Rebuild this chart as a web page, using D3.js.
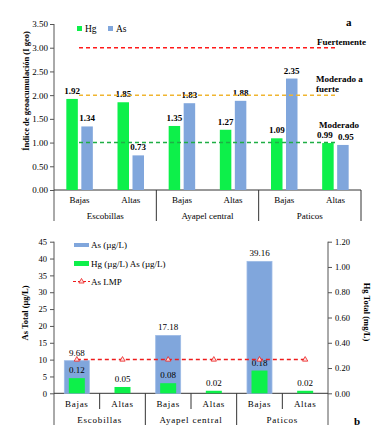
<!DOCTYPE html>
<html lang="es">
<head>
<meta charset="UTF-8">
<title>Igeo y As/Hg total</title>
<script src="https://cdn.jsdelivr.net/npm/d3@7"></script>
<style>
  body { margin: 0; background: #fff; }
  svg { display: block; font-family: "Liberation Serif", "Times New Roman", serif; }
  .tick line { stroke: #555; }
  .tick text { fill: #000; }
</style>
</head>
<body>
<script>
// ---- data ----
const categories = ["Bajas", "Altas", "Bajas", "Altas", "Bajas", "Altas"];
const groups = ["Escobillas", "Ayapel central", "Paticos"];

// panel a: Igeo
const igeoHg = [1.92, 1.85, 1.35, 1.27, 1.09, 0.99];
const igeoAs = [1.34, 0.73, 1.83, 1.88, 2.35, 0.95];
const igeoTicks = [0, 0.5, 1, 1.5, 2, 2.5, 3, 3.5];
const classValues = [3, 2, 1];
const classLabels = [["Fuertemente"], ["Moderado a", "fuerte"], ["Moderado"]];

// panel b: totals
const asTotal = [9.68, null, 17.18, null, 39.16, null];
const hgTotal = [0.12, 0.05, 0.08, 0.02, 0.18, 0.02];
const asLmp = [10, 10, 10, 10, 10, 10];
const asTicks = [0, 5, 10, 15, 20, 25, 30, 35, 40, 45];
const hgTicks = [0, 0.2, 0.4, 0.6, 0.8, 1.0, 1.2];

const green = "#0df04a";
const blue = "#80a6dc";
const classColors = ["#ff1a1a", "#f0b530", "#1fae45"];

const svg = d3.select("body").append("svg")
  .attr("width", 377).attr("height", 445);

// ================= panel a =================
const a = svg.append("g");
const xa = d3.scaleBand().domain(d3.range(6)).range([54, 361]);
const xaSub = d3.scaleBand().domain(["Hg", "As"]).range([-13.25, 13.25]).paddingInner(0.233);
const ya = d3.scaleLinear().domain([0, 3.5]).range([190, 24]);

a.append("g")
  .attr("transform", "translate(54,0)")
  .call(d3.axisLeft(ya).tickValues(igeoTicks).tickFormat(d3.format(".2f")).tickSize(4).tickPadding(2))
  .call(g => g.select(".domain").remove())
  .selectAll("text").attr("font-size", 9).attr("font-family", "Liberation Serif");

a.append("line").attr("x1", 54).attr("x2", 54).attr("y1", 24).attr("y2", 221).attr("stroke", "#555");
a.append("line").attr("x1", 54).attr("x2", 361).attr("y1", 190).attr("y2", 190).attr("stroke", "#333");

// group separators
[2, 4].forEach(i => {
  a.append("line").attr("x1", xa(i)).attr("x2", xa(i)).attr("y1", 190).attr("y2", 221).attr("stroke", "#333");
});
a.append("line").attr("x1", 361).attr("x2", 361).attr("y1", 190).attr("y2", 221).attr("stroke", "#333");

// bars
const series = [["Hg", igeoHg, green, -1], ["As", igeoAs, blue, 1]];
series.forEach(([key, vals, col, side]) => {
  const g = a.append("g");
  g.selectAll("rect").data(vals).join("rect")
    .attr("x", (d, i) => xa(i) + xa.bandwidth() / 2 + xaSub(key))
    .attr("width", xaSub.bandwidth())
    .attr("y", d => ya(d))
    .attr("height", d => ya(0) - ya(d))
    .attr("fill", col);
  g.selectAll("text").data(vals).join("text")
    .attr("x", (d, i) => {
      // push apart labels of near-equal bars so they don't collide
      const close = Math.abs(igeoHg[i] - igeoAs[i]) < 0.15 ? side * 3 : 0;
      return xa(i) + xa.bandwidth() / 2 + xaSub(key) + xaSub.bandwidth() / 2 + close;
    })
    .attr("y", d => ya(d) - 5)
    .attr("text-anchor", "middle")
    .attr("font-size", 9)
    .attr("font-weight", "bold")
    .text(d => d3.format(".2f")(d));
});

// class lines
classValues.forEach((v, i) => {
  a.append("line")
    .attr("x1", 79).attr("x2", 336)
    .attr("y1", ya(v)).attr("y2", ya(v))
    .attr("stroke", classColors[i]).attr("stroke-width", 1.5)
    .attr("stroke-dasharray", "4,3");
});
const classLabelY = [45, 82, 128];
const classLabelX = [317, 316, 319];
classLabels.forEach((lines, i) => {
  const t = a.append("text")
    .attr("x", classLabelX[i]).attr("y", classLabelY[i])
    .attr("font-size", 9).attr("font-weight", "bold");
  lines.forEach((l, j) => t.append("tspan").attr("x", classLabelX[i]).attr("dy", j ? 10 : 0).text(l));
});

// category labels
a.selectAll(".cat").data(categories).join("text")
  .attr("x", (d, i) => xa(i) + xa.bandwidth() / 2)
  .attr("y", 203)
  .attr("text-anchor", "middle").attr("font-size", 9)
  .text(d => d);
a.selectAll(".grp").data(groups).join("text")
  .attr("x", (d, i) => xa(i * 2) + xa.bandwidth())
  .attr("y", 219)
  .attr("text-anchor", "middle").attr("font-size", 9)
  .text(d => d);

// legend a
a.append("rect").attr("x", 77).attr("y", 26).attr("width", 5).attr("height", 5).attr("fill", green);
a.append("text").attr("x", 85).attr("y", 32).attr("font-size", 9.5).text("Hg");
a.append("rect").attr("x", 108).attr("y", 26).attr("width", 5).attr("height", 5).attr("fill", blue);
a.append("text").attr("x", 116).attr("y", 32).attr("font-size", 9.5).text("As");

a.append("text").attr("x", 346).attr("y", 26).attr("font-size", 11).attr("font-weight", "bold").text("a");

a.append("text")
  .attr("transform", "translate(29,91) rotate(-90)")
  .attr("text-anchor", "middle").attr("font-size", 8.5).attr("font-weight", "bold")
  .text("Índice de geoacumulación (I geo)");

// ================= panel b =================
const b = svg.append("g");
const xb = d3.scaleBand().domain(d3.range(6)).range([54, 328]);
const ybL = d3.scaleLinear().domain([0, 45]).range([393.3, 241.7]);
const ybR = d3.scaleLinear().domain([0, 1.2]).range([393.3, 241.7]);

b.append("g")
  .attr("transform", "translate(54,0)")
  .call(d3.axisLeft(ybL).tickValues(asTicks).tickFormat(d3.format("d")).tickSize(4).tickPadding(3))
  .call(g => g.select(".domain").remove())
  .selectAll("text").attr("font-size", 8.5).attr("font-family", "Liberation Serif");
b.append("g")
  .attr("transform", "translate(328,0)")
  .call(d3.axisRight(ybR).tickValues(hgTicks).tickFormat(d3.format(".2f")).tickSize(4).tickPadding(3))
  .call(g => g.select(".domain").remove())
  .selectAll("text").attr("font-size", 8.5).attr("font-family", "Liberation Serif");

b.append("line").attr("x1", 54).attr("x2", 54).attr("y1", 241.7).attr("y2", 425).attr("stroke", "#555");
b.append("line").attr("x1", 328).attr("x2", 328).attr("y1", 241.7).attr("y2", 425).attr("stroke", "#555");
b.append("line").attr("x1", 54).attr("x2", 328).attr("y1", 393.3).attr("y2", 393.3).attr("stroke", "#333");
[1, 3, 5].forEach(i => {
  b.append("line").attr("x1", xb(i)).attr("x2", xb(i)).attr("y1", 393.3).attr("y2", 409).attr("stroke", "#333");
});
[2, 4].forEach(i => {
  b.append("line").attr("x1", xb(i)).attr("x2", xb(i)).attr("y1", 393.3).attr("y2", 425).attr("stroke", "#333");
});

// As bars
const asW = 25, hgW = 16;
const asData = asTotal.map((v, i) => ({ v, i })).filter(d => d.v != null);
b.selectAll(".asbar").data(asData).join("rect")
  .attr("x", d => xb(d.i) + xb.bandwidth() / 2 - asW / 2)
  .attr("width", asW)
  .attr("y", d => ybL(d.v))
  .attr("height", d => ybL(0) - ybL(d.v))
  .attr("fill", blue).attr("stroke", "#9dbbe6").attr("stroke-width", 0.8);
b.selectAll(".aslab").data(asData).join("text")
  .attr("x", d => xb(d.i) + xb.bandwidth() / 2)
  .attr("y", d => ybL(d.v) - 5)
  .attr("text-anchor", "middle").attr("font-size", 9)
  .text(d => d3.format(".2f")(d.v));

// Hg bars
b.selectAll(".hgbar").data(hgTotal).join("rect")
  .attr("x", (d, i) => xb(i) + xb.bandwidth() / 2 - hgW / 2)
  .attr("width", hgW)
  .attr("y", d => ybR(d))
  .attr("height", d => ybR(0) - ybR(d))
  .attr("fill", green);
b.selectAll(".hglab").data(hgTotal).join("text")
  .attr("x", (d, i) => xb(i) + xb.bandwidth() / 2)
  .attr("y", d => ybR(d) - 5)
  .attr("text-anchor", "middle").attr("font-size", 9)
  .text(d => d3.format(".2f")(d));

// As LMP
const lmpLine = d3.line().x((d, i) => xb(i) + xb.bandwidth() / 2).y(d => ybL(d));
b.append("path").datum(asLmp).attr("d", lmpLine)
  .attr("fill", "none").attr("stroke", "#ee1c1c").attr("stroke-width", 1.5).attr("stroke-dasharray", "4,3");
const tri = d3.symbol().type(d3.symbolTriangle).size(12);
b.selectAll(".lmpmk").data(asLmp).join("path")
  .attr("d", tri)
  .attr("transform", (d, i) => `translate(${xb(i) + xb.bandwidth() / 2},${ybL(d)})`)
  .attr("fill", "#fbe3e3").attr("stroke", "#ee1c1c").attr("stroke-width", 0.8);

// category labels b
b.selectAll(".cat").data(categories).join("text")
  .attr("x", (d, i) => xb(i) + xb.bandwidth() / 2)
  .attr("y", 407)
  .attr("text-anchor", "middle").attr("font-size", 9).attr("letter-spacing", 0.7)
  .text(d => d);
b.selectAll(".grp").data(groups).join("text")
  .attr("x", (d, i) => xb(i * 2) + xb.bandwidth())
  .attr("y", 423)
  .attr("text-anchor", "middle").attr("font-size", 9).attr("letter-spacing", 0.8)
  .text(d => d);

// legend b
b.append("rect").attr("x", 74).attr("y", 243).attr("width", 15).attr("height", 4).attr("fill", blue);
b.append("text").attr("x", 91).attr("y", 248).attr("font-size", 9).text("As (µg/L)");
b.append("rect").attr("x", 74).attr("y", 261).attr("width", 15).attr("height", 5).attr("fill", green);
b.append("text").attr("x", 91).attr("y", 266.5).attr("font-size", 9).text("Hg (µg/L) As (µg/L)");
b.append("line").attr("x1", 73).attr("x2", 90).attr("y1", 281.5).attr("y2", 281.5)
  .attr("stroke", "#ee1c1c").attr("stroke-width", 1.2).attr("stroke-dasharray", "3,2");
b.append("path").attr("d", tri).attr("transform", "translate(81.5,281.5)")
  .attr("fill", "#fbe3e3").attr("stroke", "#ee1c1c").attr("stroke-width", 0.8);
b.append("text").attr("x", 91).attr("y", 285).attr("font-size", 9).text("As LMP");

b.append("text")
  .attr("transform", "translate(28,313) rotate(-90)")
  .attr("text-anchor", "middle").attr("font-size", 8.5).attr("font-weight", "bold")
  .text("As Total (µg/L)");
b.append("text")
  .attr("transform", "translate(364,312) rotate(90)")
  .attr("text-anchor", "middle").attr("font-size", 8.5).attr("font-weight", "bold")
  .text("Hg Total (mg/L)");
b.append("text").attr("x", 354).attr("y", 425).attr("font-size", 11).attr("font-weight", "bold").text("b");
</script>
</body>
</html>
